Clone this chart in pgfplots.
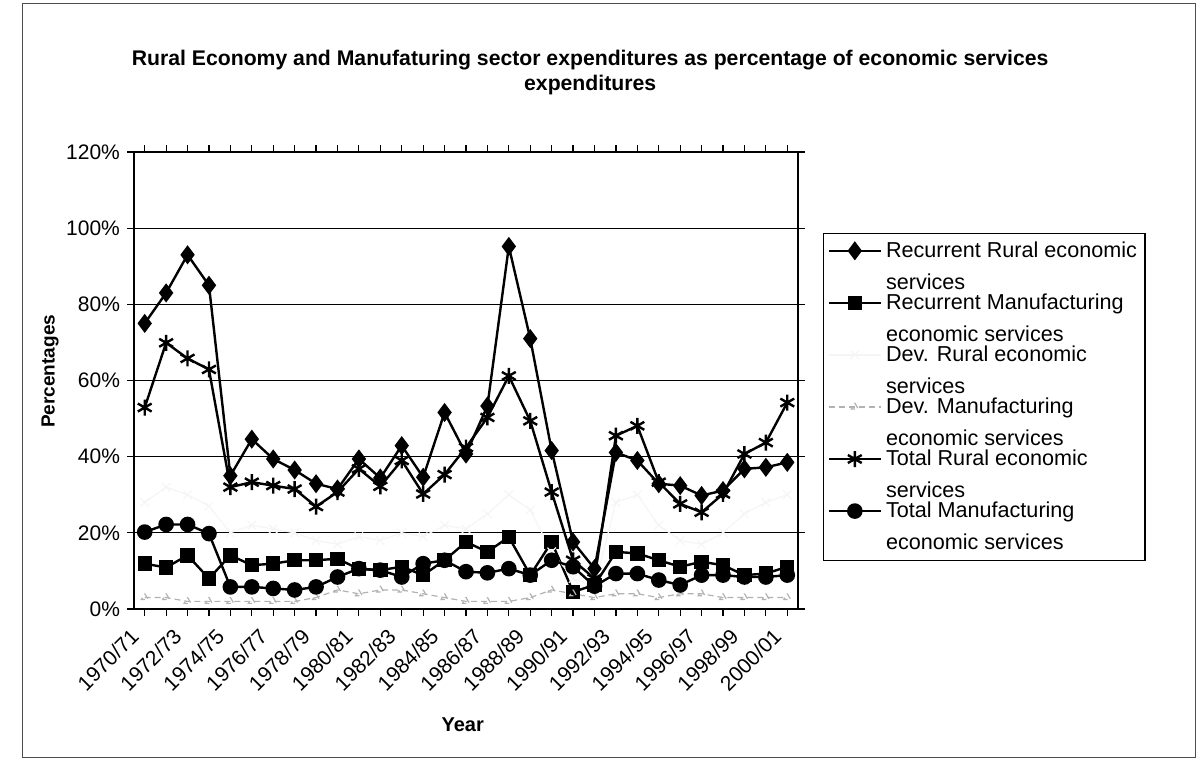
\documentclass[border=0pt]{standalone}
\usepackage{fontspec}
\setmainfont{Liberation Sans}
\usepackage{pgfplots}
\usepackage{pgfplotstable}
\pgfplotsset{compat=1.18}

\pgfplotstableread{
i  RR    RM    DR   DM   TR    TM
0  75.0  11.9  28   3    52.9  20.2
1  83.0  10.9  32   3    69.9  22.2
2  93.0  14.1  30   2    65.8  22.2
3  85.0  8.0   27   2    62.9  19.8
4  35.0  14.1  20   2    32.0  5.8
5  44.6  11.5  22   2    33.3  5.8
6  39.4  11.9  21   2    32.4  5.4
7  36.5  12.8  20   2    31.5  5.0
8  32.9  12.8  18   3    26.9  5.8
9  31.5  13.2  17   5    30.7  8.4
10 39.4  10.5  19   4    36.8  10.6
11 34.4  10.2  18   5    32.2  10.2
12 42.9  11.1  20   5    39.0  8.4
13 34.6  8.9   19   4    30.2  11.9
14 51.6  12.8  22   3    35.3  12.8
15 40.7  17.6  21   2    42.4  9.8
16 53.3  15.0  25   2    50.3  9.5
17 95.2  18.9  30   2    61.2  10.6
18 71.0  8.9   26   3    49.4  8.9
19 41.6  17.6  15   5    30.7  12.8
20 17.6  4.5   8    4    12.8  11.1
21 10.6  6.3   6    3    8.0   6.0
22 41.1  15.0  28   4    45.5  9.3
23 39.0  14.6  30   4    48.1  9.3
24 32.9  12.8  22   3    33.3  7.6
25 32.4  11.1  18   4    27.6  6.3
26 29.8  12.4  17   4    25.4  8.9
27 31.1  11.5  20   3    30.2  8.9
28 36.8  8.9   25   3    40.7  8.4
29 37.2  9.3   28   3    43.7  8.4
30 38.5  11.1  30   3    54.2  8.9
}\datatable

\begin{document}
\begin{tikzpicture}
\path[use as bounding box] (-67pt,-76pt) rectangle (533.5pt,304.5pt);
\draw[black!70, line width=0.4pt] (-56pt,-74pt) rectangle (530.5pt,303pt);
\begin{axis}[
  scale only axis,
  width=332pt, height=228.5pt,
  xmin=-0.5, xmax=30.5,
  ymin=0, ymax=120,
  axis line style={line width=1pt},
  tick align=outside,
  major tick length=3.5pt,
  tick style={black, line width=0.6pt},
  xtick={0,...,30},
  xticklabels={1970/71,,1972/73,,1974/75,,1976/77,,1978/79,,1980/81,,1982/83,,1984/85,,1986/87,,1988/89,,1990/91,,1992/93,,1994/95,,1996/97,,1998/99,,2000/01},
  xticklabel style={rotate=45, anchor=east, xshift=-6pt, yshift=-2.5pt, font=\fontsize{10.5}{12}\selectfont},
  ytick={0,20,...,120},
  yticklabels={0\%,20\%,40\%,60\%,80\%,100\%,120\%},
  yticklabel style={font=\fontsize{10.5}{12}\selectfont},
  ymajorgrids,
  major grid style={black, line width=0.6pt},
  xlabel={Year},
  xlabel style={at={(axis description cs:0.495,-0.254)}, anchor=center, font=\bfseries\fontsize{10}{12}\selectfont},
  ylabel={Percentages},
  ylabel style={at={(axis description cs:-0.1265,0.52)}, anchor=center, font=\bfseries\fontsize{9.5}{12}\selectfont},
  title={Rural Economy and Manufaturing sector expenditures as percentage of economic services\\expenditures},
  title style={at={(axis description cs:0.687,1.212)}, anchor=north, align=center, font=\bfseries\fontsize{10.6}{12.3}\selectfont},
  legend style={at={(axis description cs:1.0377,0.823)}, anchor=north west, draw=black, line width=0.6pt,
    font=\fontsize{10.8}{16}\selectfont, cells={align=left, anchor=west}, row sep=-3.3pt, inner sep=2pt},
  legend image code/.code={\draw[mark repeat=2,mark phase=2,yshift=8pt,#1] plot coordinates {(0pt,0pt) (13pt,0pt) (26pt,0pt)};},
  every axis plot/.append style={line width=1.2pt},
]
\addplot[black, mark=diamond*, mark size=3.8pt] table[x=i, y=RR] {\datatable};
\addlegendentry{Recurrent Rural economic\\services}
\addplot[black, mark=square*, mark size=3pt] table[x=i, y=RM] {\datatable};
\addlegendentry{Recurrent Manufacturing\\economic services}
\addplot[black!4, line width=0.6pt, mark=x, mark size=3pt] table[x=i, y=DR] {\datatable};
\addlegendentry{Dev. Rural economic\\services}
\addplot[black!30, line width=0.6pt, densely dashed, mark=triangle, mark size=2pt] table[x=i, y=DM] {\datatable};
\addlegendentry{Dev. Manufacturing\\economic services}
\addplot[black, mark=asterisk, mark size=4pt, mark options={line width=1.2pt}] table[x=i, y=TR] {\datatable};
\addlegendentry{Total Rural economic\\services}
\addplot[black, mark=*, mark size=3.3pt] table[x=i, y=TM] {\datatable};
\addlegendentry{Total Manufacturing\\economic services}
\end{axis}
\end{tikzpicture}
\end{document}
